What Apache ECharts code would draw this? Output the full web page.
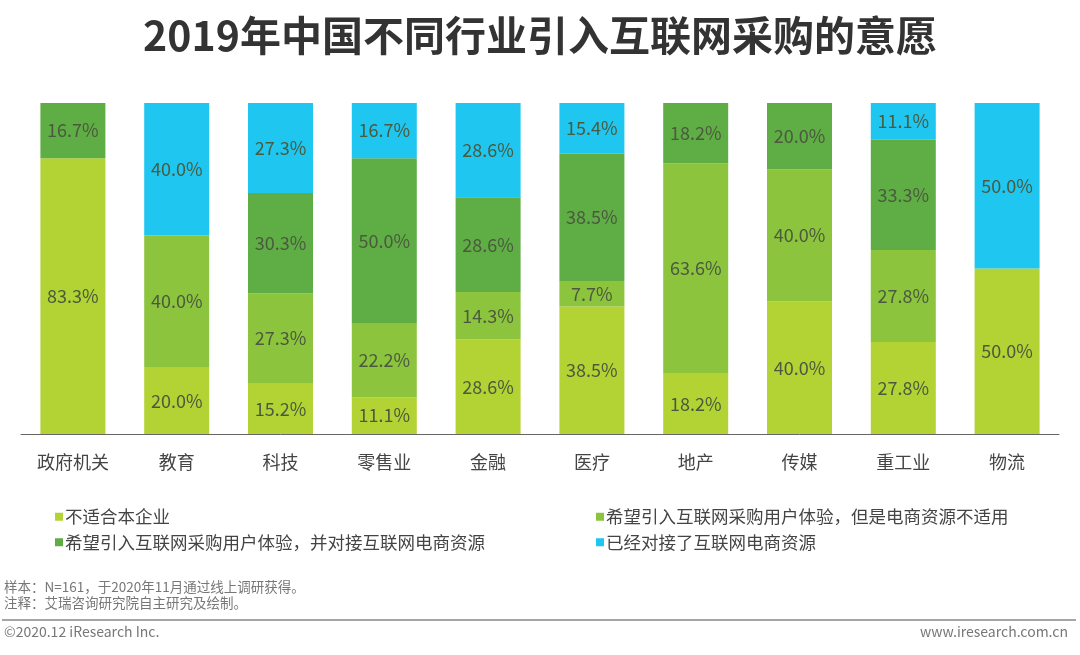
<!DOCTYPE html>
<html><head><meta charset="utf-8">
<script src="https://cdn.jsdelivr.net/npm/echarts@6/dist/echarts.min.js"></script>
<style>html,body{margin:0;padding:0;background:#fff;}#c{width:1080px;height:655px;}</style>
</head><body><div id="c"></div>
<script>
const categories = ['政府机关','教育','科技','零售业','金融','医疗','地产','传媒','重工业','物流'];
const seriesNames = ['不适合本企业','希望引入互联网采购用户体验，但是电商资源不适用','希望引入互联网采购用户体验，并对接互联网电商资源','已经对接了互联网电商资源'];
const notSuitable   = [83.3, 20.0, 15.2, 11.1, 28.6, 38.5, 18.2, 40.0, 27.8, 50.0];
const wantNoResource = [0, 40.0, 27.3, 22.2, 14.3, 7.7, 63.6, 40.0, 27.8, 0];
const wantConnect   = [16.7, 0, 30.3, 50.0, 28.6, 38.5, 18.2, 20.0, 33.3, 0];
const connected     = [0, 40.0, 27.3, 16.7, 28.6, 15.4, 0, 0, 11.1, 50.0];
const colors = ['#b3d234','#8cc43e','#5fad45','#1fc6f0'];
const font = '"Noto Sans CJK SC", "Noto Sans", sans-serif';
const chart = echarts.init(document.getElementById('c'));
const values = [notSuitable, wantNoResource, wantConnect, connected];
chart.setOption({
  animation:false,
  color: colors,
  textStyle:{fontFamily:font},
  title:{text:'2019年中国不同行业引入互联网采购的意愿',left:'center',top:10,
    textStyle:{fontSize:41,fontWeight:'bold',color:'#333',fontFamily:font}},
  grid:{left:21,right:21,top:103,bottom:221,containLabel:false},
  legend:[
    {data:[seriesNames[0],seriesNames[2]],orient:'vertical',left:50,top:503,itemWidth:8,itemHeight:8,itemGap:8,icon:'rect',
     textStyle:{fontSize:17.5,color:'#444',padding:[0,0,0,-3]}},
    {data:[seriesNames[1],seriesNames[3]],orient:'vertical',left:591,top:503,itemWidth:8,itemHeight:8,itemGap:8,icon:'rect',
     textStyle:{fontSize:17.5,color:'#444',padding:[0,0,0,-3]}}
  ],
  xAxis:{type:'category',data:categories,axisTick:{show:false},
    axisLine:{lineStyle:{color:'#666',width:1}},
    axisLabel:{fontSize:18,color:'#444',margin:19}},
  yAxis:{type:'value',min:0,max:100,show:false,splitLine:{show:false}},
  series: seriesNames.map((n,i)=>({
    name:n,type:'bar',stack:'total',barWidth:65,data:values[i],
    itemStyle:{color:colors[i]},
    label:{show:true,position:'inside',fontSize:18,color:'#4b5a3e',
      formatter:p=>p.value>0?p.value.toFixed(1)+'%':''}
  })),
  graphic:[
    {type:'text',left:4,top:580,style:{text:'样本：N=161，于2020年11月通过线上调研获得。',fontSize:13.5,fill:'#777',fontFamily:font}},
    {type:'text',left:4,top:596,style:{text:'注释：艾瑞咨询研究院自主研究及绘制。',fontSize:13.5,fill:'#777',fontFamily:font}},
    {type:'line',shape:{x1:2,y1:620,x2:1076,y2:620},style:{stroke:'#888',lineWidth:1.5}},
    {type:'text',left:4,top:625,style:{text:'©2020.12 iResearch Inc.',fontSize:14,fill:'#777',fontFamily:font}},
    {type:'text',right:12,top:625,style:{text:'www.iresearch.com.cn',fontSize:14,fill:'#777',fontFamily:font}}
  ]
});
</script></body></html>
